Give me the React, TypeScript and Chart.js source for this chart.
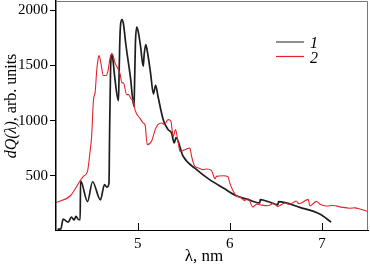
import React, { useEffect, useRef } from "react";
import { Chart, registerables } from "chart.js";

Chart.register(...registerables);

// Curve 1 (black)
const curve1Lambda = [4.13, 4.165, 4.19, 4.245, 4.28, 4.31, 4.33, 4.36, 4.375, 4.38, 4.455, 4.51, 4.595, 4.64, 4.665, 4.688, 4.695, 4.705, 4.718, 4.73, 4.75, 4.79, 4.795, 4.805, 4.815, 4.83, 4.845, 4.87, 4.92, 4.96, 4.965, 4.975, 4.99, 5.005, 5.03, 5.06, 5.07, 5.087, 5.1, 5.14, 5.17, 5.195, 5.22, 5.277, 5.33, 5.367, 5.397, 5.415, 5.494, 5.64, 5.78, 5.93, 6.07, 6.2, 6.325, 6.33, 6.43, 6.52, 6.53, 6.76, 6.976, 7.1];
const curve1Value = [15, 15, 105, 78, 125, 98, 130, 100, 100, 454, 265, 445, 280, 420, 395, 430, 900, 1450, 1605, 1560, 1400, 1182, 1300, 1700, 1880, 1918, 1880, 1700, 1400, 1130, 1300, 1700, 1848, 1810, 1680, 1494, 1600, 1691, 1650, 1430, 1243, 1321, 1221, 1009, 918, 888, 797, 845, 675, 555, 464, 388, 318, 283, 252, 282, 261, 236, 264, 212, 152, 79];

// Curve 2 (red)
const curve2Lambda = [4.115, 4.27, 4.41, 4.455, 4.483, 4.5, 4.52, 4.537, 4.556, 4.57, 4.58, 4.6, 4.627, 4.657, 4.68, 4.7, 4.725, 4.754, 4.79, 4.81, 4.827, 4.845, 4.88, 4.9, 4.935, 4.95, 4.97, 5.025, 5.06, 5.08, 5.104, 5.15, 5.19, 5.22, 5.26, 5.29, 5.33, 5.36, 5.386, 5.41, 5.44, 5.46, 5.51, 5.567, 5.585, 5.62, 5.66, 5.71, 5.75, 5.8, 5.84, 5.855, 5.93, 5.98, 6.0, 6.07, 6.11, 6.16, 6.2, 6.25, 6.29, 6.33, 6.41, 6.45, 6.47, 6.52, 6.595, 6.65, 6.72, 6.75, 6.79, 6.85, 6.87, 6.94, 6.98, 7.05, 7.12, 7.21, 7.3, 7.36, 7.42, 7.5];
const curve2Value = [257, 318, 494, 540, 720, 860, 1190, 1252, 1464, 1560, 1591, 1524, 1409, 1409, 1464, 1570, 1605, 1524, 1464, 1420, 1343, 1343, 1236, 1236, 1191, 1191, 1100, 1020, 979, 960, 782, 812, 918, 964, 979, 964, 1009, 994, 857, 918, 797, 721, 736, 752, 676, 585, 570, 555, 561, 548, 473, 494, 500, 490, 433, 318, 306, 276, 291, 215, 242, 236, 227, 240, 252, 221, 252, 240, 270, 245, 258, 285, 225, 267, 240, 225, 230, 215, 205, 208, 195, 176];

const xTicks = [5, 6, 7];
const yTicks = [500, 1000, 1500, 2000];
const seriesLabels = ["1", "2"];
const seriesColors = ["#1e1e1e", "#e3232c"];
const xTitle = "λ, nm";
const yTitleItalic = "dQ(λ)";
const yTitleRest = ", arb. units";

const SERIF = "'Liberation Serif', 'DejaVu Serif', serif";

const decorPlugin = {
  id: "decor",
  afterDraw(chart: any) {
    const { ctx, chartArea } = chart;
    const { left, right, top, bottom } = chartArea;
    const x = chart.scales.x;
    ctx.save();
    // top and right frame
    ctx.strokeStyle = "#777";
    ctx.lineWidth = 1;
    ctx.beginPath();
    ctx.moveTo(left, top + 0.5);
    ctx.lineTo(right - 0.5, top + 0.5);
    ctx.lineTo(right - 0.5, bottom);
    ctx.stroke();
    // inward x ticks
    ctx.strokeStyle = "#000";
    ctx.beginPath();
    xTicks.forEach((v) => {
      const px = Math.round(x.getPixelForValue(v)) + 0.5;
      ctx.moveTo(px, bottom);
      ctx.lineTo(px, bottom - 7);
    });
    ctx.stroke();

    // legend
    const legY = [top + 41, top + 55.5];
    seriesLabels.forEach((lab, i) => {
      ctx.strokeStyle = i === 0 ? "#444" : seriesColors[1];
      ctx.lineWidth = 1.2;
      ctx.beginPath();
      ctx.moveTo(276, legY[i]);
      ctx.lineTo(304, legY[i]);
      ctx.stroke();
      ctx.fillStyle = "#000";
      ctx.font = `italic 16px ${SERIF}`;
      ctx.textAlign = "left";
      ctx.textBaseline = "alphabetic";
      ctx.fillText(lab, 310, legY[i] + 6);
    });

    // x title
    ctx.fillStyle = "#000";
    ctx.font = `17px ${SERIF}`;
    ctx.textAlign = "center";
    ctx.textBaseline = "alphabetic";
    ctx.fillText(xTitle, 204, 261);

    // y title (rotated)
    ctx.translate(16, 106);
    ctx.rotate(-Math.PI / 2);
    ctx.font = `italic 16px ${SERIF}`;
    const w1 = ctx.measureText(yTitleItalic).width;
    ctx.font = `16px ${SERIF}`;
    const w2 = ctx.measureText(yTitleRest).width;
    const start = -(w1 + w2) / 2;
    ctx.textAlign = "left";
    ctx.font = `italic 16px ${SERIF}`;
    ctx.fillText(yTitleItalic, start, 0);
    ctx.font = `16px ${SERIF}`;
    ctx.fillText(yTitleRest, start + w1, 0);
    ctx.restore();
  },
};

export default function App() {
  const ref = useRef<HTMLCanvasElement>(null);
  useEffect(() => {
    if (!ref.current) return;
    const chart = new Chart(ref.current, {
      type: "line",
      data: {
        datasets: [
          {
            label: seriesLabels[1],
            data: curve2Lambda.map((v, i) => ({ x: v, y: curve2Value[i] })),
            borderColor: seriesColors[1],
            borderWidth: 1.1,
            pointRadius: 0,
            cubicInterpolationMode: "monotone",
          },
          {
            label: seriesLabels[0],
            data: curve1Lambda.map((v, i) => ({ x: v, y: curve1Value[i] })),
            borderColor: seriesColors[0],
            borderWidth: 1.7,
            pointRadius: 0,
            cubicInterpolationMode: "monotone",
          },
        ],
      },
      options: {
        responsive: false,
        animation: false,
        layout: { padding: { top: 1, right: 2, left: 0, bottom: 0 } },
        plugins: { legend: { display: false }, tooltip: { enabled: false } },
        scales: {
          x: {
            type: "linear",
            min: 4.113,
            max: 7.5,
            grid: { display: true, drawOnChartArea: false, drawTicks: false },
            border: { display: true, color: "#000", width: 1 },
            ticks: {
              padding: 5,
              font: { family: SERIF, size: 15 },
              color: "#000",
              callback: (v: any) => String(v),
            },
            afterBuildTicks: (s: any) => {
              s.ticks = xTicks.map((v) => ({ value: v }));
            },
            afterFit: (s: any) => {
              s.height = 38;
              s.paddingLeft = 0;
              s.paddingRight = 0;
            },
          },
          y: {
            type: "linear",
            min: 7,
            max: 2086,
            grid: { display: true, drawOnChartArea: false, drawTicks: true, tickLength: 6, color: "#000" },
            border: { display: true, color: "#000", width: 1.5 },
            ticks: {
              padding: 2,
              font: { family: SERIF, size: 15 },
              color: "#000",
              callback: (v: any) => String(v),
            },
            afterBuildTicks: (s: any) => {
              s.ticks = yTicks.map((v) => ({ value: v }));
            },
            afterFit: (s: any) => {
              s.width = 56;
              s.paddingTop = 0;
              s.paddingBottom = 0;
            },
          },
        },
      },
      plugins: [decorPlugin],
    });
    return () => chart.destroy();
  }, []);
  return (
    <div style={{ position: "fixed", left: 0, top: 0, width: 370, height: 268, background: "#fff" }}>
      <canvas ref={ref} width={370} height={268} style={{ display: "block" }} />
    </div>
  );
}
